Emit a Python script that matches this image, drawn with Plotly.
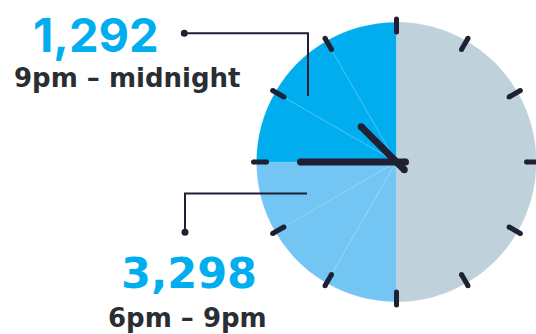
import numpy as np
import plotly.graph_objects as go

# ---- data ----
hour_slices = ["12pm", "1pm", "2pm", "3pm", "4pm", "5pm",
               "6pm", "7pm", "8pm", "9pm", "10pm", "11pm"]
slice_hours = [1] * 12
slice_group = ["other"] * 6 + ["evening"] * 3 + ["night"] * 3
period_values = [1292, 3298]
period_labels = ["9pm – midnight", "6pm – 9pm"]
clock_hour = 10.5     # hour-hand position (hours)
clock_minute = 45     # minute-hand position (minutes)

# ---- styles ----
W, H = 536, 334
cx, cy, R = 396.5, 162.0, 140.0
group_color = {"other": "#BFD1DB", "evening": "#73C5F3", "night": "#00AEEF"}
DARK = "#1F2034"
TEXT_DARK = "#2A2E33"
BLUE_TEXT = "#00AEEF"

colors = [group_color[g] for g in slice_group]
line_c = [group_color[g] if g == "other" else "rgba(255,255,255,0.16)" for g in slice_group]

fig = go.Figure()
fig.add_trace(go.Pie(
    values=slice_hours, labels=hour_slices, sort=False, direction="clockwise",
    rotation=0, textinfo="none", hoverinfo="skip", showlegend=False,
    marker=dict(colors=colors, line=dict(width=0.6, color=line_c)),
    domain=dict(x=[(cx - R) / W, 1], y=[1 - (cy + R + 0.5) / H, 1 - (cy - R - 0.5) / H]),
))
# invisible scatter to establish pixel axes
fig.add_trace(go.Scatter(x=[0, W], y=[0, H], mode="markers",
                         marker=dict(opacity=0), hoverinfo="skip", showlegend=False))

shapes = []

def pt(angle_deg, r):
    a = np.deg2rad(angle_deg)
    return cx + r * np.sin(a), cy - r * np.cos(a)

def rounded_line(p1, p2, width, color):
    shapes.append(dict(type="line", xref="x", yref="y", x0=p1[0], y0=p1[1], x1=p2[0], y1=p2[1],
                       line=dict(color=color, width=width), layer="above"))
    rr = width / 2
    for p in (p1, p2):
        shapes.append(dict(type="circle", xref="x", yref="y", x0=p[0] - rr, x1=p[0] + rr,
                           y0=p[1] - rr, y1=p[1] + rr, fillcolor=color,
                           line=dict(width=0), layer="above"))

# hour ticks
for k in range(12):
    ang = k * 30
    rounded_line(pt(ang, 130), pt(ang, 143), 5, DARK)

# hands
min_ang = clock_minute / 60 * 360
hr_ang = clock_hour / 12 * 360
rounded_line(pt(min_ang, 96), pt(min_ang, -9), 7, DARK)
rounded_line(pt(hr_ang, 50), pt(hr_ang, -11), 7, DARK)

# leader lines
shapes.append(dict(type="path", xref="x", yref="y", path="M 184.3 33.3 H 308 V 96",
                   line=dict(color=DARK, width=2), layer="above"))
shapes.append(dict(type="path", xref="x", yref="y", path="M 185 232.3 V 193.5 H 307",
                   line=dict(color=DARK, width=2), layer="above"))
for (x, y) in [(184.3, 33.3), (185, 232.3)]:
    shapes.append(dict(type="circle", xref="x", yref="y", x0=x - 3.5, x1=x + 3.5,
                       y0=y - 3.5, y1=y + 3.5, fillcolor=DARK, line=dict(width=0), layer="above"))

LABEL_FONT = "DejaVu Sans"
annotations = [
    dict(text=f"{period_values[0]:,}", x=96, y=34.7,
         font=dict(size=47, color=BLUE_TEXT, weight=700, family="Inter")),
    dict(text=period_labels[0], x=126.7, y=78,
         font=dict(size=26, color=TEXT_DARK, weight=700, family=LABEL_FONT)),
    dict(text=f"{period_values[1]:,}", x=189, y=273,
         font=dict(size=43, color=BLUE_TEXT, weight=700, family=LABEL_FONT)),
    dict(text=period_labels[1], x=187.4, y=318,
         font=dict(size=26, color=TEXT_DARK, weight=700, family=LABEL_FONT)),
]
for a in annotations:
    a.update(xref="x", yref="y", showarrow=False, xanchor="center", yanchor="middle")

fig.update_layout(
    width=W, height=H, margin=dict(l=0, r=0, t=0, b=0),
    paper_bgcolor="white", plot_bgcolor="rgba(0,0,0,0)",
    xaxis=dict(range=[0, W], visible=False, fixedrange=True),
    yaxis=dict(range=[H, 0], visible=False, fixedrange=True),
    shapes=shapes, annotations=annotations,
)
fig.write_html("out.html")
